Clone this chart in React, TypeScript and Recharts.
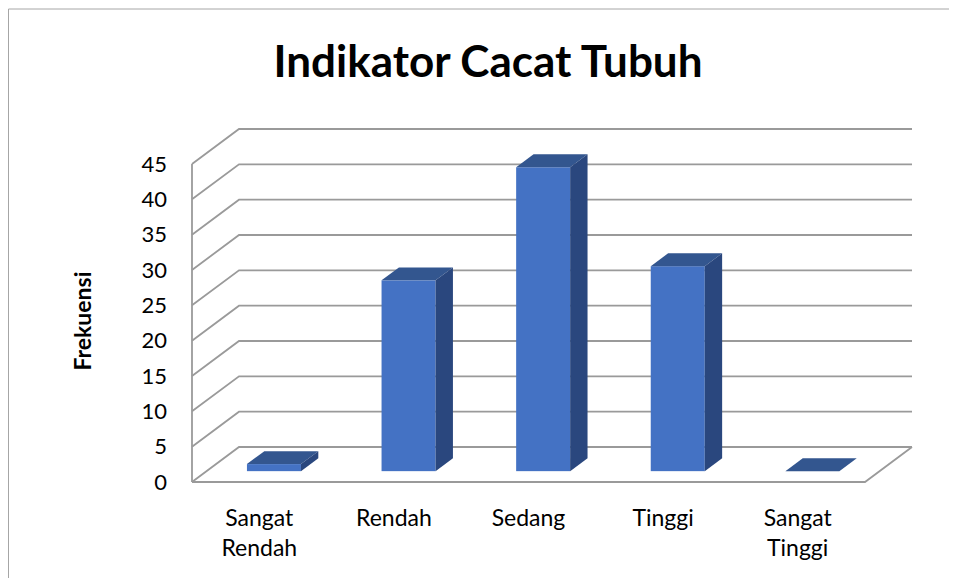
import { BarChart, Bar, XAxis, YAxis, CartesianGrid } from "recharts";

// data (totals 100 respondents)
const categories = ["Sangat Rendah", "Rendah", "Sedang", "Tinggi", "Sangat Tinggi"];
const categoryLines = [["Sangat", "Rendah"], ["Rendah"], ["Sedang"], ["Tinggi"], ["Sangat", "Tinggi"]];
const frekuensi = [1, 27, 43, 29, 0];
const yTicks = [0, 5, 10, 15, 20, 25, 30, 35, 40, 45];

const FONT = "Lato, 'Open Sans', sans-serif";
const GRID = "#9a9a9a";
const FRONT = "#4472C4";
const TOP = "#33568F";
const SIDE = "#2A477E";

// 3d depth of the box (back wall offset) and of each bar
const DX = 47;
const DY = 35;
const OX = DX * 0.31;
const OY = DY * 0.31;
const BX = DX * 0.37;
const BY = DY * 0.37;

const data = categories.map((name, i) => ({ name, value: frekuensi[i], lines: categoryLines[i] }));

function GridLine(p: any) {
  const { x1, x2, y1, y, height, index } = p;
  let d = `M${x1},${y1} L${x1 + DX},${y1 - DY} L${x2 + DX},${y1 - DY}`;
  if (Math.abs(y1 - (y + height)) < 0.5) {
    d += ` M${x1},${y1} L${x2},${y1} L${x2 + DX},${y1 - DY}`;
  }
  return <path key={`g-${index}`} d={d} stroke={GRID} strokeWidth={1.8} fill="none" />;
}

function Bar3D(p: any) {
  const { x, y, width, height } = p;
  const fx = x + OX;
  const fy = y - OY;
  const h = height || 0;
  return (
    <g>
      <rect x={fx} y={fy} width={width} height={h} fill={FRONT} />
      <polygon
        points={`${fx},${fy} ${fx + BX},${fy - BY} ${fx + width + BX},${fy - BY} ${fx + width},${fy}`}
        fill={TOP}
      />
      <polygon
        points={`${fx + width},${fy} ${fx + width + BX},${fy - BY} ${fx + width + BX},${fy + h - BY} ${fx + width},${fy + h}`}
        fill={SIDE}
      />
    </g>
  );
}

function CategoryTick(p: any) {
  const { x, y, index } = p;
  const lines = categoryLines[index] || [];
  return (
    <text x={x} y={y} textAnchor="middle" fill="#000" fontSize={23} fontFamily={FONT}>
      {lines.map((l, i) => (
        <tspan key={l + i} x={x} dy={i === 0 ? 44 : 30}>
          {l}
        </tspan>
      ))}
    </text>
  );
}

export default function App() {
  return (
    <div style={{ position: "relative", width: 949, height: 570, overflow: "hidden", background: "#fff" }}>
      <BarChart
        width={949}
        height={570}
        data={data}
        margin={{ top: 156, right: 92, bottom: 36, left: 124 }}
        barCategoryGap="30%"
      >
        <CartesianGrid vertical={false} horizontal={GridLine} />
        <XAxis
          dataKey="name"
          axisLine={false}
          tickLine={false}
          tickSize={0}
          tickMargin={0}
          height={60}
          interval={0}
          tick={CategoryTick}
        />
        <YAxis
          width={60}
          domain={[0, 45]}
          ticks={yTicks}
          interval={0}
          axisLine={{ stroke: GRID, strokeWidth: 1.8 }}
          tickLine={false}
          tickSize={0}
          tickMargin={25}
          tick={{ fill: "#000", fontSize: 22, fontFamily: FONT }}
        />
        <Bar dataKey="value" shape={Bar3D} isAnimationActive={false} />
      </BarChart>
      <svg
        width={949}
        height={570}
        style={{ position: "absolute", left: 0, top: 0, pointerEvents: "none" }}
      >
        <line x1={0.5} y1={1} x2={949} y2={1} stroke="#a6a6a6" strokeWidth={1} />
        <line x1={0.5} y1={1} x2={0.5} y2={570} stroke="#a6a6a6" strokeWidth={1} />
        <text x={480} y={69} textAnchor="middle" fontFamily={FONT} fontWeight="bold" fontSize={44} fill="#000">
          Indikator Cacat Tubuh
        </text>
        <text
          transform="translate(74,313) rotate(-90)"
          textAnchor="middle"
          dominantBaseline="central"
          fontFamily={FONT}
          fontWeight="bold"
          fontSize={23}
          fill="#000"
        >
          Frekuensi
        </text>
      </svg>
    </div>
  );
}
